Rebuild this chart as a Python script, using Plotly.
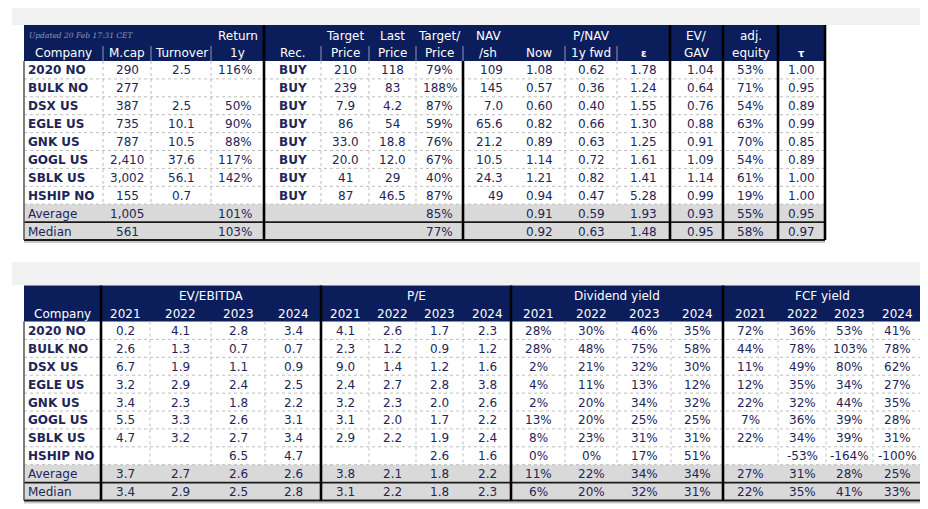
import plotly.graph_objects as go

# ---- top table: valuation snapshot ----
companies = ["2020 NO", "BULK NO", "DSX US", "EGLE US", "GNK US", "GOGL US", "SBLK US", "HSHIP NO", "Average", "Median"]
mcap = ["290", "277", "387", "735", "787", "2,410", "3,002", "155", "1,005", "561"]
turnover = ["2.5", "", "2.5", "10.1", "10.5", "37.6", "56.1", "0.7", "", ""]
return_1y = ["116%", "", "50%", "90%", "88%", "117%", "142%", "", "101%", "103%"]
rec = ["BUY", "BUY", "BUY", "BUY", "BUY", "BUY", "BUY", "BUY", "", ""]
target_price = ["210", "239", "7.9", "86", "33.0", "20.0", "41", "87", "", ""]
last_price = ["118", "83", "4.2", "54", "18.8", "12.0", "29", "46.5", "", ""]
target_to_price = ["79%", "188%", "87%", "59%", "76%", "67%", "40%", "87%", "85%", "77%"]
nav_sh = ["109", "145", "7.0", "65.6", "21.2", "10.5", "24.3", "49", "", ""]
pnav_now = ["1.08", "0.57", "0.60", "0.82", "0.89", "1.14", "1.21", "0.94", "0.91", "0.92"]
pnav_fwd = ["0.62", "0.36", "0.40", "0.66", "0.63", "0.72", "0.82", "0.47", "0.59", "0.63"]
epsilon = ["1.78", "1.24", "1.55", "1.30", "1.25", "1.61", "1.41", "5.28", "1.93", "1.48"]
ev_gav = ["1.04", "0.64", "0.76", "0.88", "0.91", "1.09", "1.14", "0.99", "0.93", "0.95"]
adj_equity = ["53%", "71%", "54%", "63%", "70%", "54%", "61%", "19%", "55%", "58%"]
tau = ["1.00", "0.95", "0.89", "0.99", "0.85", "0.89", "1.00", "1.00", "0.95", "0.97"]

top_head1 = ["", "", "", "Return", "", "Target", "Last", "Target/", "NAV", "", "", "", "EV/", "adj.", ""]
top_head2 = ["Company", "M.cap", "Turnover", "1y", "Rec.", "Price", "Price", "Price", "/sh",
             "Now", "1y fwd", "ε", "GAV", "equity", "τ"]
top_groups = [("P/NAV", 9, 11)]
updated_note = "Updated 20 Feb 17:31 CET"

# ---- bottom table: multiples by year ----
years = ["2021", "2022", "2023", "2024"]
metric_groups = ["EV/EBITDA", "P/E", "Dividend yield", "FCF yield"]
ev_ebitda = [
    ["0.2", "2.6", "6.7", "3.2", "3.4", "5.5", "4.7", "", "3.7", "3.4"],
    ["4.1", "1.3", "1.9", "2.9", "2.3", "3.3", "3.2", "", "2.7", "2.9"],
    ["2.8", "0.7", "1.1", "2.4", "1.8", "2.6", "2.7", "6.5", "2.6", "2.5"],
    ["3.4", "0.7", "0.9", "2.5", "2.2", "3.1", "3.4", "4.7", "2.6", "2.8"],
]
pe = [
    ["4.1", "2.3", "9.0", "2.4", "3.2", "3.1", "2.9", "", "3.8", "3.1"],
    ["2.6", "1.2", "1.4", "2.7", "2.3", "2.0", "2.2", "", "2.1", "2.2"],
    ["1.7", "0.9", "1.2", "2.8", "2.0", "1.7", "1.9", "2.6", "1.8", "1.8"],
    ["2.3", "1.2", "1.6", "3.8", "2.6", "2.2", "2.4", "1.6", "2.2", "2.3"],
]
dividend_yield = [
    ["28%", "28%", "2%", "4%", "2%", "13%", "8%", "0%", "11%", "6%"],
    ["30%", "48%", "21%", "11%", "20%", "20%", "23%", "0%", "22%", "20%"],
    ["46%", "75%", "32%", "13%", "34%", "25%", "31%", "17%", "34%", "32%"],
    ["35%", "58%", "30%", "12%", "32%", "25%", "31%", "51%", "34%", "31%"],
]
fcf_yield = [
    ["72%", "44%", "11%", "12%", "22%", "7%", "22%", "", "27%", "22%"],
    ["36%", "78%", "49%", "35%", "32%", "36%", "34%", "-53%", "31%", "35%"],
    ["53%", "103%", "80%", "34%", "44%", "39%", "39%", "-164%", "28%", "41%"],
    ["41%", "78%", "62%", "27%", "35%", "28%", "31%", "-100%", "25%", "33%"],
]

# ---- layout / style ----
W, H = 928, 509
NAVY = "#0b1e5b"
TEXT = "#1e2557"
GRAY_ROW = "#d9d9d9"
STRIP = "#f1f1f1"
DOT = "#bdbdbd"
FONT = "DejaVu Sans"
HEAD_SIZE = 12
CELL_SIZE = 12
HEAD_H = 18
ROW_H = 17.9
N_DATA = 8

top_edges = [16, 95, 143, 203, 256, 313, 361, 408, 455, 505, 557, 609, 662, 715, 770, 817]
top_align = ["left", "center", "center", ("right", 10), "center", "center", "center", "center",
             ("right", 8), "center", "center", "center", ("right", 7), "center", "center"]
top_bold_cols = [0, 4]
top_thick_full = [4, 12, 13, 14, 15]
top_thick_data = [8]
top_no_dots = [9]

bot_edges = [16, 93, 142, 203, 257, 313, 361, 408, 455, 503, 557, 609, 663, 715, 770, 818, 865, 914]
bot_thick_full = [1, 5, 9, 13, 17]

shapes = []
annotations = []


def rect(x0, y0, x1, y1, color):
    shapes.append(dict(type="rect", xref="x", yref="y", x0=x0, y0=y0, x1=x1, y1=y1,
                       fillcolor=color, line=dict(width=0), layer="below"))


def line(x0, y0, x1, y1, color, width=1, dash="solid"):
    shapes.append(dict(type="line", xref="x", yref="y", x0=x0, y0=y0, x1=x1, y1=y1,
                       line=dict(color=color, width=width, dash=dash)))


def text(x, y, s, anchor="center", color=TEXT, size=CELL_SIZE, bold=False, family=FONT):
    if bold:
        s = "<b>" + s + "</b>"
    annotations.append(dict(x=x, y=y, xref="x", yref="y", text=s, showarrow=False,
                            xanchor=anchor, yanchor="middle",
                            font=dict(family=family, size=size, color=color)))


def cell_text(edges, col, y, s, align, bold=False):
    if not s:
        return
    if align == "left":
        text(edges[col] + 2, y, s, "left", bold=bold)
    elif isinstance(align, tuple):
        text(edges[col + 1] - align[1], y, s, "right", bold=bold)
    else:
        text((edges[col] + edges[col + 1]) / 2, y, s, "center", bold=bold)


def draw_body(edges, top, columns, aligns, bold_cols, thick_full, thick_data, no_dots):
    data_top = top + 2 * HEAD_H
    bottom = data_top + (N_DATA + 2) * ROW_H
    x0, x1 = edges[0], edges[-1]
    rect(x0, top, x1, data_top, NAVY)
    rect(x0, data_top + N_DATA * ROW_H, x1, bottom, GRAY_ROW)
    # horizontal dotted row lines
    for k in range(1, N_DATA + 1):
        y = data_top + k * ROW_H
        line(x0, y, x1, y, DOT, 1, "dot")
    # vertical dotted column lines in the white rows
    for i in range(1, len(edges) - 1):
        if i in thick_full or i in thick_data or i in no_dots:
            continue
        line(edges[i], data_top, edges[i], data_top + N_DATA * ROW_H, DOT, 1, "dot")
    # median separator and bottom rule
    line(x0, data_top + (N_DATA + 1) * ROW_H, x1, data_top + (N_DATA + 1) * ROW_H, "#1a1a1a", 1.8)
    line(x0, bottom + 2, x1, bottom + 2, "#c8c8c8", 2)
    line(x0, bottom, x1, bottom, "#1a1a1a", 2)
    line(x0, data_top, x0, bottom, "#555555", 1.5)
    for i in thick_full:
        line(edges[i], top, edges[i], bottom, "black", 2.6)
    for i in thick_data:
        line(edges[i], data_top, edges[i], bottom, "black", 2.6)
    # cell texts
    for c, values in enumerate(columns):
        for r, s in enumerate(values):
            y = data_top + r * ROW_H + ROW_H / 2 + 0.5
            cell_text(edges, c, y, s, aligns[c], bold=(c in bold_cols and r < N_DATA))
    return data_top


# grey strips above each table
rect(4, 0, 926, 17, STRIP)
rect(4, 254, 926, 277, STRIP)

# top table
TOP1 = 17
top_columns = [companies, mcap, turnover, return_1y, rec, target_price, last_price, target_to_price,
               nav_sh, pnav_now, pnav_fwd, epsilon, ev_gav, adj_equity, tau]
draw_body(top_edges, TOP1, top_columns, top_align, top_bold_cols,
          top_thick_full, top_thick_data, top_no_dots)
for i in range(1, len(top_edges) - 1):
    if i in top_thick_full or i in top_no_dots:
        continue
    line(top_edges[i], TOP1 + HEAD_H + 3, top_edges[i], TOP1 + 2 * HEAD_H, "#aeb6d0", 0.8)
for c, s in enumerate(top_head1):
    if s:
        text((top_edges[c] + top_edges[c + 1]) / 2, TOP1 + HEAD_H / 2 + 1.5, s, color="white", size=HEAD_SIZE)
for c, s in enumerate(top_head2):
    greek = s in ("ε", "τ")
    text((top_edges[c] + top_edges[c + 1]) / 2, TOP1 + HEAD_H * 1.5 + 1, s, color="white",
         size=10 if greek else HEAD_SIZE, bold=greek)
for label, c0, c1 in top_groups:
    text((top_edges[c0] + top_edges[c1 + 1]) / 2, TOP1 + HEAD_H / 2 + 1.5, label, color="white", size=HEAD_SIZE)
text(top_edges[0] + 3, TOP1 + HEAD_H / 2 + 1.5, "<i>" + updated_note + "</i>", "left",
     color="#8d97bb", size=7.5, family="DejaVu Serif")

# bottom table
TOP2 = 277.5
bot_columns = [companies]
for block in (ev_ebitda, pe, dividend_yield, fcf_yield):
    bot_columns.extend(block)
bot_align = ["left"] + ["center"] * 16
draw_body(bot_edges, TOP2, bot_columns, bot_align, [0], bot_thick_full, [], [])
for g, label in enumerate(metric_groups):
    x_mid = (bot_edges[1 + 4 * g] + bot_edges[5 + 4 * g]) / 2
    text(x_mid, TOP2 + HEAD_H / 2 + 1, label, color="white", size=HEAD_SIZE)
text((bot_edges[0] + bot_edges[1]) / 2, TOP2 + HEAD_H * 1.5 + 1, "Company", color="white", size=HEAD_SIZE)
for g in range(len(metric_groups)):
    for k, yr in enumerate(years):
        c = 1 + 4 * g + k
        text((bot_edges[c] + bot_edges[c + 1]) / 2, TOP2 + HEAD_H * 1.5 + 1, yr, color="white", size=HEAD_SIZE)

fig = go.Figure()
fig.update_layout(
    width=W,
    height=H,
    margin=dict(l=0, r=0, t=0, b=0),
    paper_bgcolor="white",
    plot_bgcolor="white",
    xaxis=dict(range=[0, W], visible=False, fixedrange=True),
    yaxis=dict(range=[H, 0], visible=False, fixedrange=True),
    shapes=shapes,
    annotations=annotations,
    showlegend=False,
)
fig.write_html("out.html")
